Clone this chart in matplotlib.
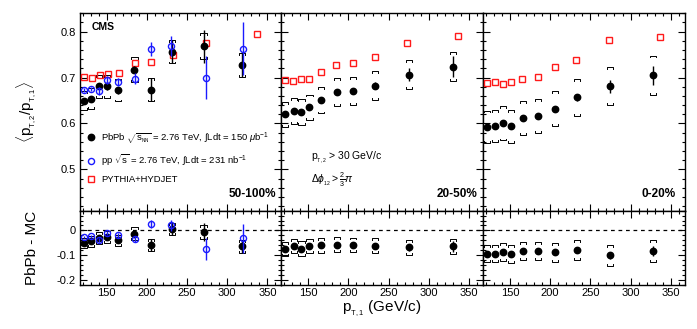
import matplotlib as mpl
mpl.use('Agg')
import matplotlib.pyplot as plt
from matplotlib.lines import Line2D
from matplotlib.ticker import MultipleLocator

plt.rcParams['font.family'] = ['Liberation Sans', 'DejaVu Sans']
plt.rcParams['mathtext.fontset'] = 'custom'
plt.rcParams['mathtext.rm'] = 'Liberation Sans'
plt.rcParams['mathtext.it'] = 'Liberation Sans:italic'
plt.rcParams['mathtext.bf'] = 'Liberation Sans:bold'
plt.rcParams['axes.unicode_minus'] = False

# ---- data ----
centralities = ['50-100%', '20-50%', '0-20%']

# PYTHIA+HYDJET reference (same pT bins in every panel)
mc_x = [121.5, 131, 141, 151, 165.5, 185, 205.5, 232.5, 273, 337]
mc_periph = [0.702, 0.699, 0.705, 0.708, 0.710, 0.732, 0.733, 0.750, 0.775, 0.794]
mc_mid = [0.695, 0.692, 0.696, 0.697, 0.712, 0.728, 0.731, 0.745, 0.775, 0.790]
mc_cent = [0.688, 0.690, 0.685, 0.691, 0.697, 0.702, 0.722, 0.738, 0.782, 0.789]

# PbPb 50-100%
pbpb_x_periph = [121, 130.5, 140.5, 150.5, 164.5, 184.5, 205.5, 231.5, 270.5, 318]
pbpb_periph = [0.650, 0.654, 0.681, 0.681, 0.672, 0.717, 0.673, 0.756, 0.768, 0.728]
stat_periph = [0.005, 0.005, 0.006, 0.008, 0.008, 0.008, 0.025, 0.025, 0.036, 0.026]
sys_periph = [0.021, 0.023, 0.025, 0.025, 0.024, 0.027, 0.025, 0.025, 0.028, 0.026]
diff_periph = [-0.051, -0.045, -0.031, -0.028, -0.041, -0.013, -0.059, 0.006, -0.007, -0.065]

# PbPb 20-50%
pbpb_x_mid = [121.5, 132, 141.5, 151.5, 166, 185.5, 206, 233.5, 275, 330]
pbpb_mid = [0.620, 0.6275, 0.625, 0.635, 0.651, 0.669, 0.671, 0.6825, 0.7065, 0.724]
stat_mid = [0.004, 0.004, 0.004, 0.005, 0.005, 0.005, 0.007, 0.008, 0.015, 0.023]
sys_mid = [0.027, 0.028, 0.029, 0.028, 0.029, 0.030, 0.030, 0.031, 0.031, 0.031]
diff_mid = [-0.076, -0.065, -0.074, -0.065, -0.061, -0.058, -0.059, -0.062, -0.069, -0.065]

# PbPb 0-20%
pbpb_x_cent = [121.5, 131.5, 141.5, 151.5, 166, 185.5, 206, 233.5, 274, 328]
pbpb_cent = [0.593, 0.594, 0.600, 0.594, 0.612, 0.617, 0.6325, 0.657, 0.681, 0.705]
stat_cent = [0.004, 0.004, 0.004, 0.004, 0.004, 0.005, 0.005, 0.007, 0.014, 0.021]
sys_cent = [0.035, 0.035, 0.037, 0.036, 0.037, 0.037, 0.038, 0.040, 0.041, 0.043]
diff_cent = [-0.095, -0.095, -0.087, -0.096, -0.085, -0.085, -0.089, -0.081, -0.102, -0.084]

# pp reference (only in peripheral panel)
pp_x = [121, 130.5, 140.5, 150.5, 164.5, 185, 204.5, 230.5, 273.5, 319.5]
pp_y = [0.673, 0.675, 0.671, 0.695, 0.690, 0.697, 0.762, 0.769, 0.700, 0.763]
pp_stat = [0.005, 0.005, 0.008, 0.0095, 0.009, 0.012, 0.016, 0.021, 0.046, 0.057]
pp_diff = [-0.028, -0.024, -0.038, -0.011, -0.020, -0.034, 0.027, 0.020, -0.076, -0.033]

BLUE = '#1a1aff'
RED = '#ff1a1a'


def brackets(ax, x, y, s, w, h):
    # ROOT-style systematic brackets
    for xi, yi, si in zip(x, y, s):
        ax.plot([xi - w, xi - w, xi + w, xi + w], [yi + si - h, yi + si, yi + si, yi + si - h],
                color='k', lw=0.7, zorder=2)
        ax.plot([xi - w, xi - w, xi + w, xi + w], [yi - si + h, yi - si, yi - si, yi - si + h],
                color='k', lw=0.7, zorder=2)


def style(ax, ymajor, yminor):
    ax.set_xlim(116, 367)
    ax.xaxis.set_major_locator(MultipleLocator(50))
    ax.xaxis.set_minor_locator(MultipleLocator(10))
    ax.yaxis.set_major_locator(MultipleLocator(ymajor))
    ax.yaxis.set_minor_locator(MultipleLocator(yminor))
    ax.tick_params(which='both', direction='in', top=True, right=True, width=0.8,
                   labelsize=8, pad=2.5)
    ax.tick_params(which='major', length=5)
    ax.tick_params(which='minor', length=2.5)
    for sp in ax.spines.values():
        sp.set_linewidth(1.0)


W, H = 697.0, 329.0
edges = [79.5, 281, 482.5, 684.5]
y_top, y_mid, y_bot = 13.3, 210.7, 284.5

fig = plt.figure(figsize=(6.97, 3.29), dpi=100)

panels = [
    (pbpb_x_periph, pbpb_periph, stat_periph, sys_periph, diff_periph, mc_periph),
    (pbpb_x_mid, pbpb_mid, stat_mid, sys_mid, diff_mid, mc_mid),
    (pbpb_x_cent, pbpb_cent, stat_cent, sys_cent, diff_cent, mc_cent),
]
label_x = [0.975, 0.975, 0.955]

for i, (px, py, pst, psy, pdf, mcy) in enumerate(panels):
    left = edges[i] / W
    width = (edges[i + 1] - edges[i]) / W
    up = fig.add_axes([left, 1 - y_mid / H, width, (y_mid - y_top) / H])
    lo = fig.add_axes([left, 1 - y_bot / H, width, (y_bot - y_mid) / H])

    # upper panel
    up.plot(mc_x, mcy, 's', ms=5, mfc='none', mec=RED, mew=1.0, zorder=3)
    brackets(up, px, py, psy, 3.8, 0.004)
    up.errorbar(px, py, yerr=pst, fmt='o', ms=4.6, color='k', ecolor='k', elinewidth=1.0,
                capsize=0, zorder=4)
    if i == 0:
        up.errorbar(pp_x, pp_y, yerr=pp_stat, fmt='o', ms=4.4, mfc='none', mec=BLUE, mew=1.0,
                    ecolor=BLUE, elinewidth=1.0, capsize=0, zorder=5)
    up.set_ylim(0.41, 0.84)
    style(up, 0.1, 0.02)
    up.tick_params(labelbottom=False)
    up.text(label_x[i], 0.07, centralities[i], transform=up.transAxes, ha='right', va='baseline',
            fontsize=8.5, fontweight='bold')

    # lower panel
    lo.axhline(0, color='k', lw=0.9, ls=(0, (3, 3)), zorder=1)
    brackets(lo, px, pdf, psy, 3.8, 0.008)
    lo.errorbar(px, pdf, yerr=pst, fmt='o', ms=4.6, color='k', ecolor='k', elinewidth=1.0,
                capsize=0, zorder=4)
    if i == 0:
        lo.errorbar(pp_x, pp_diff, yerr=pp_stat, fmt='o', ms=4.4, mfc='none', mec=BLUE, mew=1.0,
                    ecolor=BLUE, elinewidth=1.0, capsize=0, zorder=5)
    lo.set_ylim(-0.22, 0.08)
    style(lo, 0.1, 0.02)

    if i == 0:
        up.set_ylabel(r'$\langle \mathrm{p}_{_{\mathrm{T,2}}}/\mathrm{p}_{_{\mathrm{T,1}}} \rangle$',
                      fontsize=11, labelpad=6)
        lo.set_ylabel('PbPb - MC', fontsize=11, labelpad=4)
        up.yaxis.set_label_coords(-0.2, 0.5)
        lo.yaxis.set_label_coords(-0.2, 0.5)
        lo.set_yticks([0, -0.1, -0.2])
        lo.set_yticklabels(['0', '-0.1', '-0.2'])
        up.text(0.062, 0.93, 'CMS', transform=up.transAxes, fontsize=7.5, fontweight='bold',
                va='center')
        handles = [
            Line2D([], [], ls='none', marker='o', ms=4.6, color='k'),
            Line2D([], [], ls='none', marker='o', ms=4.4, mfc='none', mec=BLUE, mew=1.0),
            Line2D([], [], ls='none', marker='s', ms=5, mfc='none', mec=RED, mew=1.0),
        ]
        labels = [
            r'PbPb $\sqrt{\mathrm{s}_{_{\mathrm{NN}}}}$ = 2.76 TeV, $\int$Ldt = 150 $\mu$b$^{-1}$',
            r'pp $\sqrt{\mathrm{s}}$ = 2.76 TeV, $\int$Ldt = 231 nb$^{-1}$',
            'PYTHIA+HYDJET',
        ]
        up.legend(handles, labels, loc='lower left', bbox_to_anchor=(0.0, 0.1), frameon=False,
                  fontsize=6.8, handlelength=1.0, handletextpad=0.6, labelspacing=0.75,
                  borderaxespad=0.3)
    else:
        up.tick_params(labelleft=False)
        lo.tick_params(labelleft=False)

    if i == 1:
        up.text(0.15, 0.27, r'$\mathrm{p}_{_{\mathrm{T,2}}}$ > 30 GeV/c', transform=up.transAxes,
                fontsize=7.5, va='center')
        up.text(0.15, 0.155, r'$\Delta\phi_{_{12}} > \frac{2}{3}\pi$', transform=up.transAxes,
                fontsize=7.5, va='center')
        lo.set_xlabel(r'$\mathrm{p}_{_{\mathrm{T,1}}}$ (GeV/c)', fontsize=11, labelpad=2)
        lo.xaxis.set_label_coords(0.5, -0.2)

fig.savefig('out.png', dpi=100)
plt.close()
